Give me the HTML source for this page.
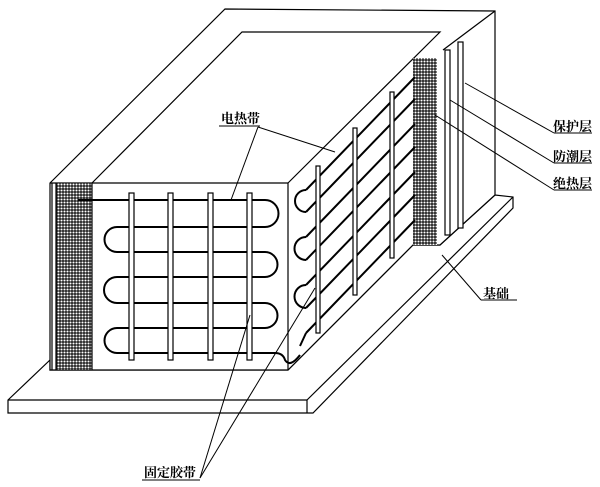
<!DOCTYPE html>
<html><head><meta charset="utf-8"><style>
html,body{margin:0;padding:0;background:#fff;}
svg{display:block;}
text{font-family:"Liberation Serif","Noto Serif CJK SC","Noto Sans CJK SC",serif;font-size:13px;fill:#000;font-weight:bold;}
</style></head><body>
<svg width="600" height="487" viewBox="0 0 600 487" xmlns="http://www.w3.org/2000/svg">
<defs>
<pattern id="h" width="3" height="3" patternUnits="userSpaceOnUse">
<rect width="3" height="3" fill="#222"/><circle cx="1.5" cy="1.5" r="1.05" fill="#fff"/>
</pattern>
</defs>
<g fill="none" stroke="#000" stroke-width="1.2">
<!-- base slab -->
<polygon points="8,400 50,360 50,370 288,370 413,245 440,245 495,195 513,197 513,208 313,413 8,413" fill="#fff"/>
<line x1="8" y1="400" x2="307" y2="400"/>
<line x1="307" y1="400" x2="513" y2="197"/>
<line x1="307" y1="400" x2="307" y2="413"/>
<!-- outer top / wall -->
<polygon points="50,183 225,9 495,11 495,195 440,245 413,245 288,370 50,370" fill="#fff"/>
<polyline points="92,183 242,32 440,32 288,183"/>
<line x1="50" y1="183" x2="288" y2="183"/>
<line x1="288" y1="183" x2="288" y2="370"/>
<line x1="495" y1="11" x2="443" y2="50"/>
<!-- layers -->
<rect x="445" y="50" width="5" height="185" fill="#fff"/>
<rect x="458" y="42" width="5" height="186" fill="#fff"/>
<!-- hatch strips -->
<rect x="56" y="183" width="36" height="187" fill="url(#h)" stroke="none"/>
<line x1="52" y1="183" x2="52" y2="370"/>
<line x1="56" y1="183" x2="56" y2="370"/>
<line x1="92" y1="183" x2="92" y2="370"/>
<rect x="413" y="58" width="24" height="187" fill="url(#h)" stroke="none"/>
</g>
<!-- front heater -->
<g fill="none" stroke="#000" stroke-width="2">
<path d="M78,200 H265 A12.5,12.5 0 0 1 265,227 H117 A12.5,12.5 0 0 0 117,252 H265 A12.5,12.5 0 0 1 265,277 H117 A12.5,12.5 0 0 0 117,303 H265 A12.5,12.5 0 0 1 265,328 H117 A12.5,12.5 0 0 0 117,353 H275 Q283,353 285,360 Q290,368 300,355"/>
<path d="M306,190 L415,77 M306,212 L415,99 M306,237 L415,124 M306,260 L415,147 M306,285 L415,172 M306,308 L415,195 M306,333 L415,220"/>
<path d="M306,190 A11,11 0 0 0 306,212 M306,237 A11.5,11.5 0 0 0 306,260 M306,285 A11.5,11.5 0 0 0 306,308 M306,333 L300,346"/>
</g>
<g fill="#fff" stroke="#000" stroke-width="1.2">
<rect x="129" y="193" width="5" height="167"/>
<rect x="168" y="193" width="5" height="167"/>
<rect x="208" y="193" width="5" height="167"/>
<rect x="247" y="193" width="5" height="167"/>
<rect x="316" y="166" width="4" height="167"/>
<rect x="353" y="128" width="4" height="167"/>
<rect x="390" y="92" width="4" height="166"/>
</g>
<!-- leaders -->
<g stroke="#000" stroke-width="1" fill="none">
<line x1="219" y1="126" x2="260" y2="126"/>
<line x1="258" y1="127" x2="231" y2="200"/>
<line x1="258" y1="127" x2="335" y2="152"/>
<line x1="465" y1="83" x2="554" y2="133"/><line x1="554" y1="133" x2="592" y2="133"/>
<line x1="450" y1="100" x2="554" y2="163"/><line x1="554" y1="163" x2="592" y2="163"/>
<line x1="435" y1="115" x2="554" y2="190"/><line x1="554" y1="190" x2="592" y2="190"/>
<line x1="442" y1="255" x2="481" y2="300"/><line x1="481" y1="300" x2="517" y2="300"/>
<line x1="142" y1="480" x2="200" y2="480"/>
<line x1="200" y1="478" x2="250" y2="315"/>
<line x1="200" y1="478" x2="315" y2="288"/>
</g>
<text x="221" y="123">电热带</text>
<text x="553" y="131">保护层</text>
<text x="553" y="161">防潮层</text>
<text x="553" y="188">绝热层</text>
<text x="483" y="298">基础</text>
<text x="144" y="477">固定胶带</text>
</svg>
</body></html>
